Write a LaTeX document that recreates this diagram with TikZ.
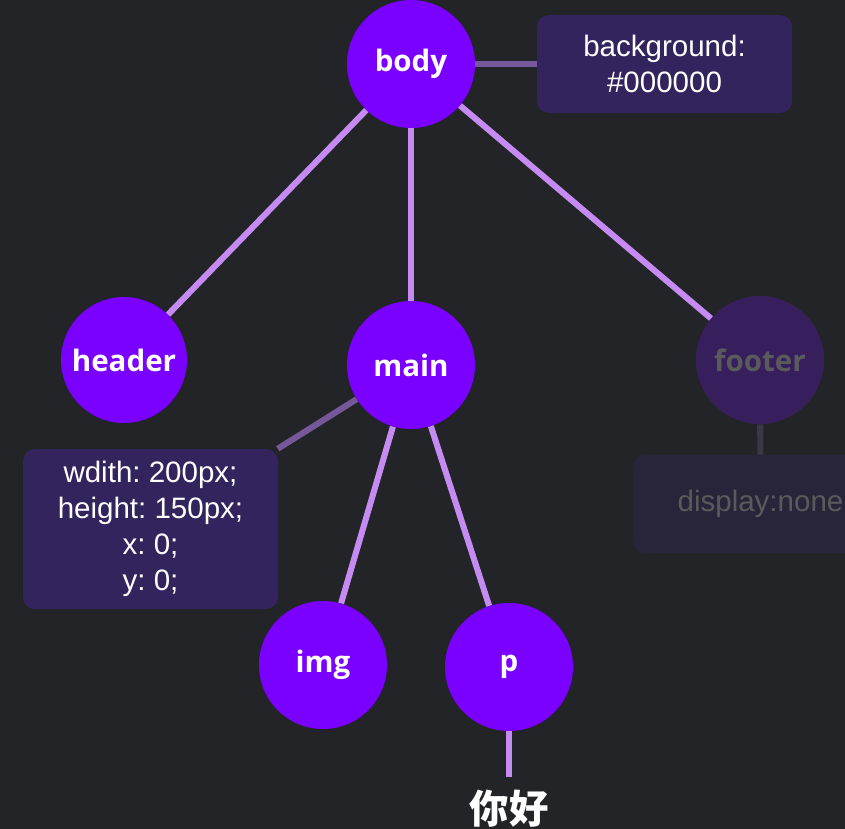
\documentclass[tikz,border=0pt]{standalone}
\usepackage{fontspec}
\setmainfont{Liberation Sans}
\newfontfamily\tagfont{Open Sans}
\newfontfamily\cjk{Noto Sans CJK SC}
\usepackage{xcolor}
\usepackage{tikz}
\usetikzlibrary{positioning}
\definecolor{BgDark}{HTML}{232427}
\definecolor{TagPurple}{HTML}{7A00FF}
\definecolor{TagHidden}{HTML}{361F5C}
\definecolor{BoxPurple}{HTML}{33245E}
\definecolor{BoxHidden}{HTML}{28253A}
\definecolor{LinkLight}{HTML}{C58BF3}
\definecolor{LinkMuted}{HTML}{76589A}
\definecolor{LinkHidden}{HTML}{3B3546}
\definecolor{TextHidden}{HTML}{5A5A5C}
\frenchspacing

\begin{document}
\begin{tikzpicture}[
            tagnode/.style={circle, fill=TagPurple, minimum size=3.2cm, inner sep=0pt, text=white, font=\tagfont\bfseries\fontsize{21}{24}\selectfont},
            cssbox/.style={rounded corners=0.3cm, fill=BoxPurple, text=white, align=center, minimum width=6.375cm, font=\fontsize{21}{25.5}\selectfont},
            link/.style={line width=4.3pt, LinkLight},
            csslink/.style={line width=4.3pt, LinkMuted}
        ]
            \clip (0,0) rectangle (21.125,-20.725);
            \fill[BgDark] (0,0) rectangle (21.125,-20.725);

            \node[tagnode] (body) at (10.275,-1.6) {body};
            \node[tagnode, minimum size=3.15cm] (header) at (3.1,-9.0) {header};
            \node[tagnode] (main) at (10.275,-9.125) {main};
            \node[tagnode, fill=TagHidden, text=TextHidden] (footer) at (19.0,-9.0) {footer};
            \node[tagnode] (img) at (8.075,-16.625) {img};
            \node[tagnode] (p) at (12.725,-16.675) {p};

            \node[cssbox, minimum height=2.45cm] (bodycss) at (16.6125,-1.6) {background:\\\#000000};
            \node[cssbox, minimum height=4.0cm] (maincss) at (3.7625,-13.225) {wdith: 200px;\\height: 150px;\\x: 0;\\y: 0;};
            \node[cssbox, minimum height=2.45cm, fill=BoxHidden, text=TextHidden] (footercss) at (19.0125,-12.6) {display:none};
            \node[below=1.45cm of p, inner sep=0pt, text=white, font=\cjk\bfseries\fontsize{28}{30}\selectfont] (hello) {你好};

            \draw[link] (body) -- (header);
            \draw[link] (body) -- (main);
            \draw[link] (body) -- (footer);
            \draw[link] (main) -- (img);
            \draw[link] (main) -- (p);
            \draw[link] (p) -- ([yshift=0.3cm]hello.north);

            \draw[csslink] (body) -- (bodycss);
            \draw[csslink] (main) -- (maincss);
            \draw[line width=4.3pt, LinkHidden] (footer) -- (footercss);

        \end{tikzpicture}
\end{document}
